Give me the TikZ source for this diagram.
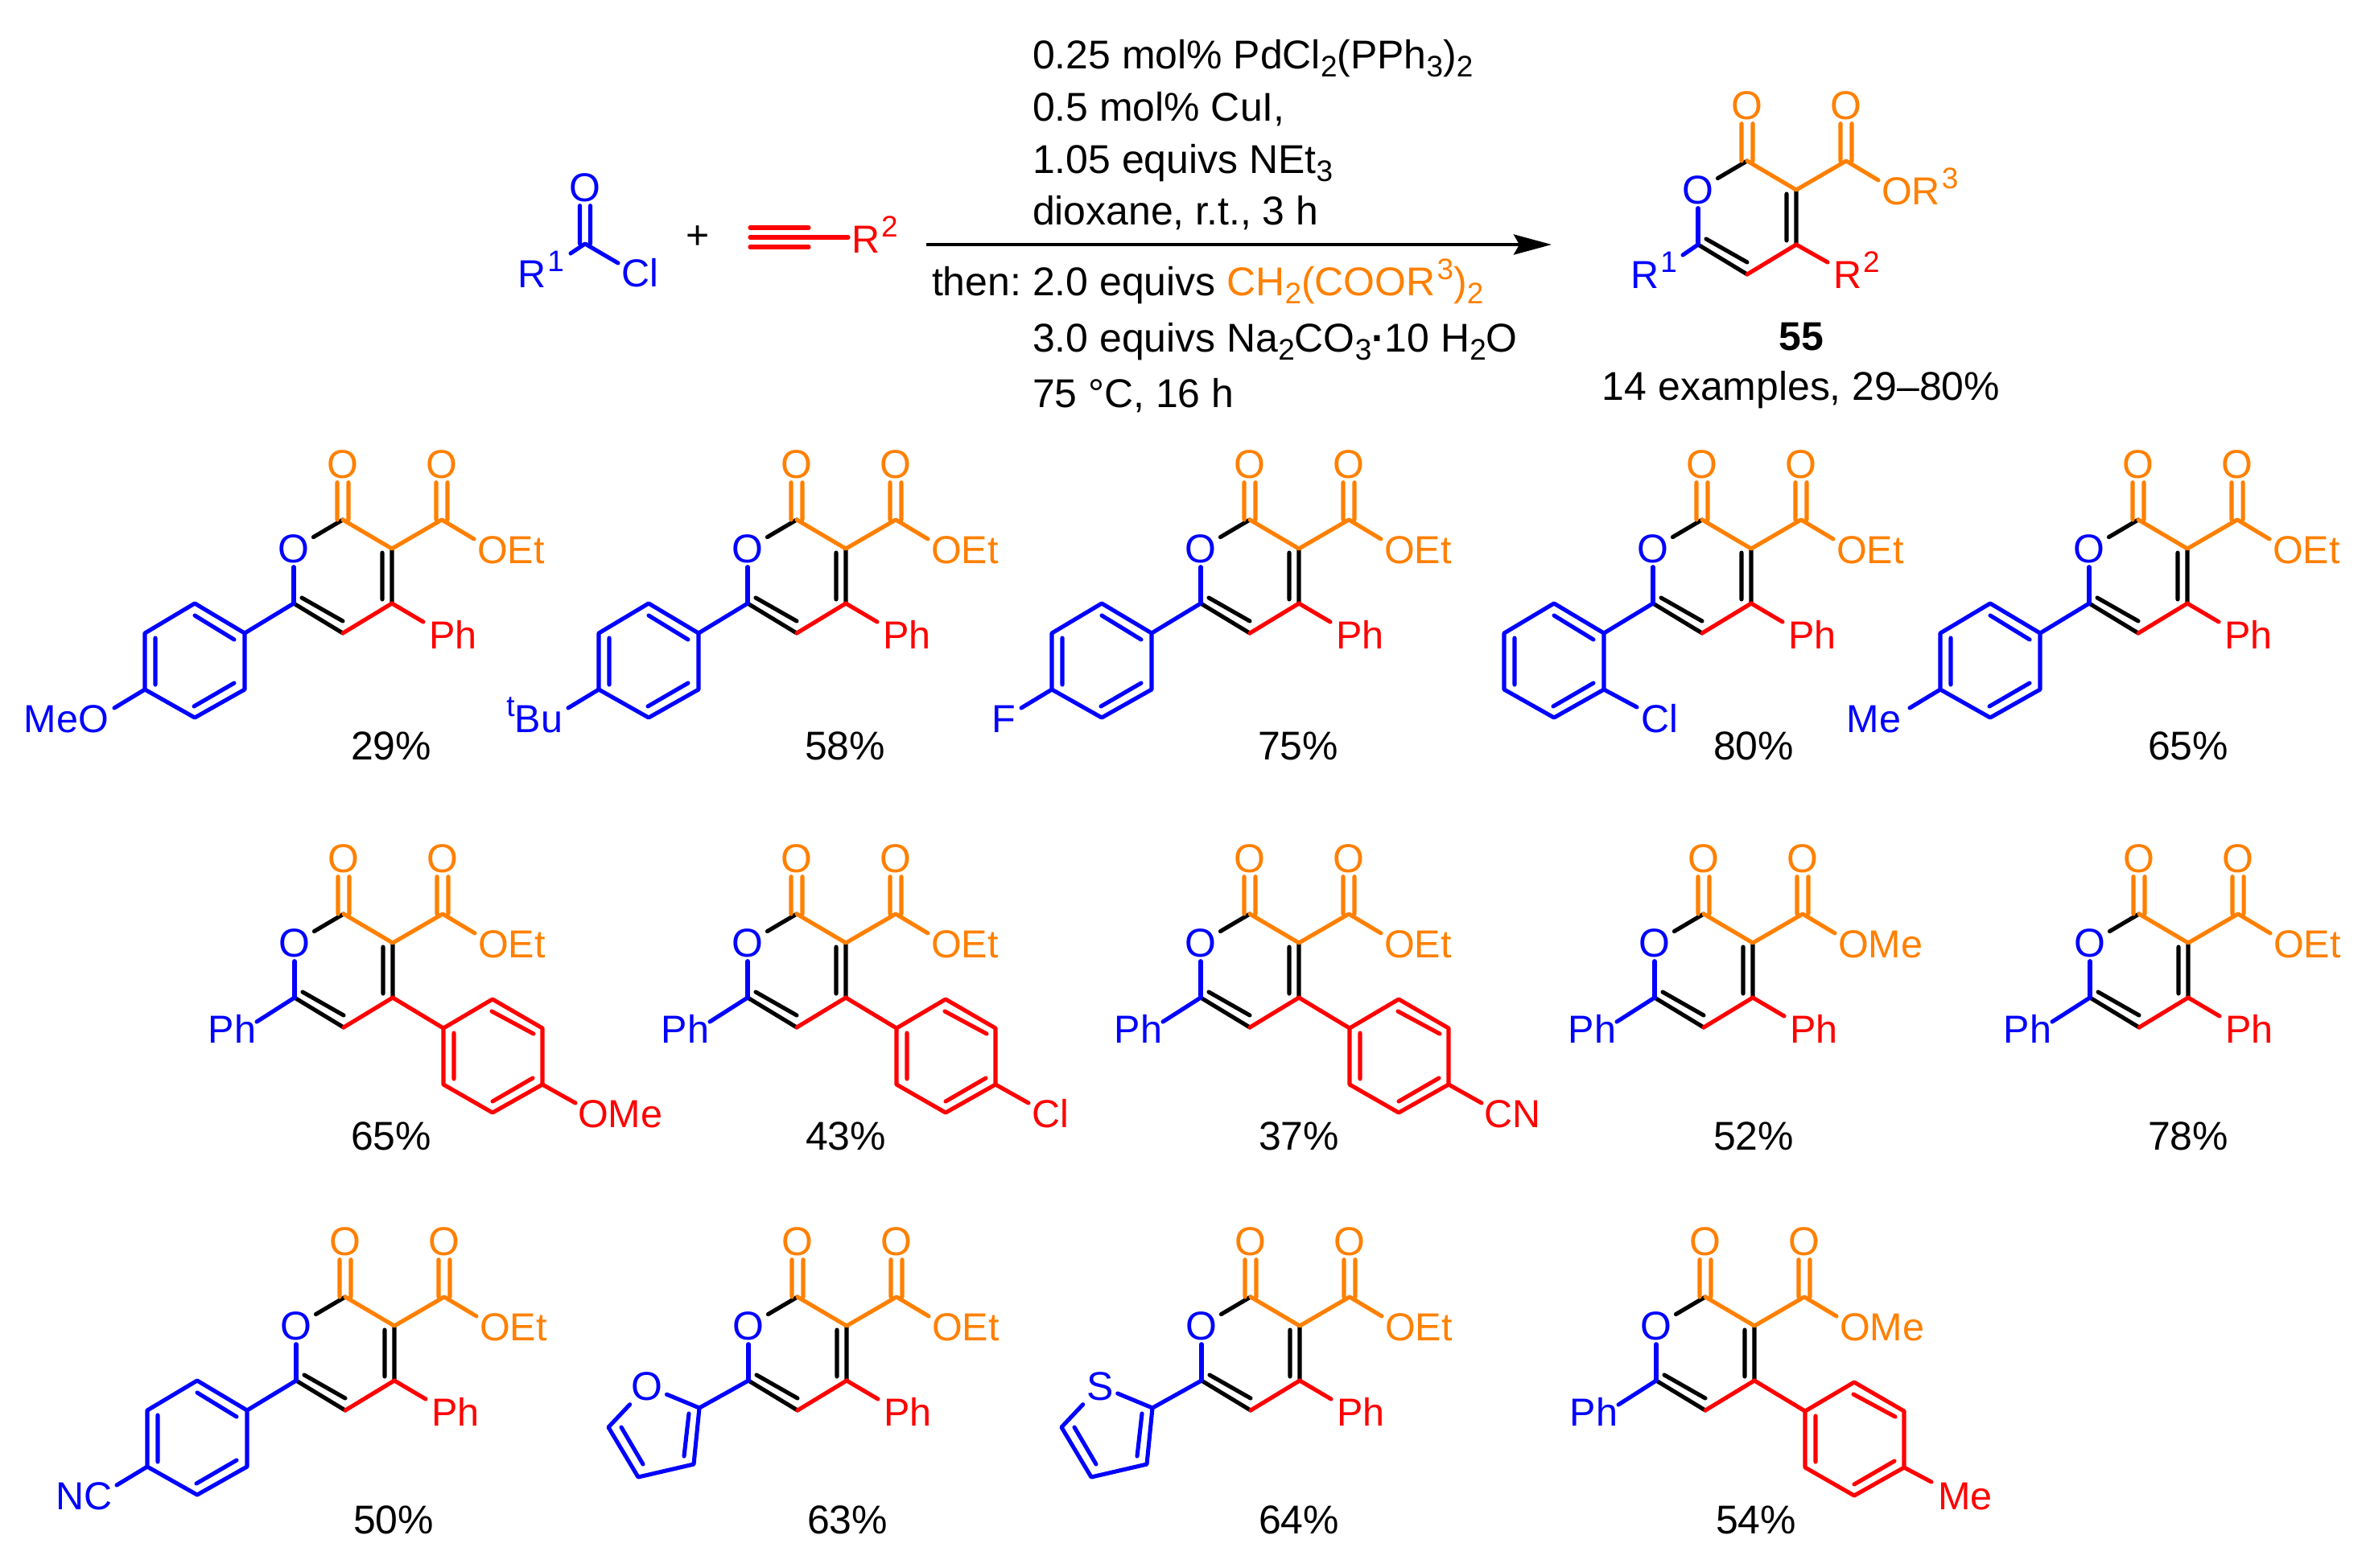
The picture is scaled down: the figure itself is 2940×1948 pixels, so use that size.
\documentclass[tikz,border=0pt]{standalone}
\usepackage{fontspec}
\setmainfont{Liberation Sans}
\usetikzlibrary{arrows.meta}
\tikzset{bond/.style={line width=1.45pt,line cap=round,line join=round},
         atom/.style={inner sep=0pt,outer sep=.05cm},
         lab/.style={inner sep=0pt,outer sep=0pt},
         chem/.style={lab,font=\fontsize{13.8}{17}\selectfont}}
\newcommand{\sbs}[1]{\raisebox{-3pt}{\fontsize{10.5}{12}\selectfont #1}}
\newcommand{\sps}[1]{\kern.6pt\raisebox{5.6pt}{\fontsize{10.5}{12}\selectfont #1}}
\newcommand{\sidegroup}[6]{
\coordinate (e-#2) at (#3);
\node[chem,text=#1,anchor=#5] (s-#2) at (#4) {#6};
\draw[bond,#1] (#2) -- (e-#2);
}
\newcommand{\phleft}{\sidegroup{blue}{c6}{-108,134}{-109,160}{base east}{Ph}}
\newcommand{\phright}{\sidegroup{red}{c4}{100,127}{107,160}{base west}{Ph}}
\newcommand{\arylleft}{
\path (-122,141) coordinate (r1) (-184,104) coordinate (r2) (-246,141) coordinate (r3)
      (-246,211) coordinate (r4) (-184,246) coordinate (r5) (-122,211) coordinate (r6)
      (-135,149) coordinate (i1) (-184,119) coordinate (i2) (-233,147) coordinate (i3)
      (-233,205) coordinate (i4) (-185,232) coordinate (i5) (-135,203) coordinate (i6);
\draw[bond,blue] (c6) -- (r1) (r1) -- (r2) -- (r3) -- (r4) -- (r5) -- (r6) -- cycle;
\draw[bond,blue] (i1) -- (i2) (i3) -- (i4) (i5) -- (i6);
}
\newcommand{\arylright}{
\path (124,142) coordinate (r1) (185,106) coordinate (r2) (247,142) coordinate (r3)
      (247,212) coordinate (r4) (185,247) coordinate (r5) (124,212) coordinate (r6)
      (137,148) coordinate (i1) (137,205) coordinate (i2) (184,121) coordinate (i3)
      (236,149) coordinate (i4) (185,233) coordinate (i5) (235,204) coordinate (i6);
\draw[bond,red] (c4) -- (r1) (r1) -- (r2) -- (r3) -- (r4) -- (r5) -- (r6) -- cycle;
\draw[bond,red] (i1) -- (i2) (i3) -- (i4) (i5) -- (i6);
}
\newcommand{\hetring}[1]{
\path (-122,138) coordinate (h2) (-129,208) coordinate (h3) (-198,224) coordinate (h4)
      (-235,162) coordinate (h5) (-135,145) coordinate (i1) (-141,198) coordinate (i2)
      (-219,162) coordinate (i3) (-192,208) coordinate (i4);
\node[atom,blue] (x1) at (-187,111) {#1};
\draw[bond,blue] (c6) -- (h2) -- (x1) (h2) -- (h3) -- (h4) -- (h5) -- (x1);
\draw[bond,blue] (i1) -- (i2) (i3) -- (i4);
}
\newcommand{\pyrone}[8]{
\begin{scope}[shift={(#2,#3)},name prefix=#1-]
\path (0,0) coordinate (c2) (61,36) coordinate (c3) (61,104) coordinate (c4)
      (0,141) coordinate (c5) (-61,104) coordinate (c6) (123,0) coordinate (c7)
      (163,24) coordinate (e7) (49,41) coordinate (d1) (49,99) coordinate (d2)
      (-51,97) coordinate (d3) (0,126) coordinate (d4);
\node[atom,blue] (o1) at (-61,36) {O};
\node[atom,orange] (o2) at (0,-69) {O};
\node[atom,orange] (o7) at (123,-69) {O};
\node[chem,text=orange,anchor=base west] (est) at (167,54) {#4};
\draw[bond] (o1) -- (c2) (c3) -- (c4) (d1) -- (d2) (c5) -- (c6) (d3) -- (d4);
\draw[bond,blue] (c6) -- (o1);
\draw[bond,red] (c4) -- (c5);
\draw[bond,orange] ([xshift=-.07cm]o2.south) -- ([xshift=-.07cm]c2) ([xshift=.07cm]o2.south) -- ([xshift=.07cm]c2)
      ([xshift=-.07cm]o7.south) -- ([xshift=-.07cm]c7) ([xshift=.07cm]o7.south) -- ([xshift=.07cm]c7)
      (c2) -- (c3) -- (c7) -- (e7);
#5
#6
\node[lab,anchor=base] (yield) at (#8) {#7};
\end{scope}
}
\begin{document}
\begin{tikzpicture}[x=.01cm,y=-.01cm,every node/.style={font=\fontsize{14.2}{17}\selectfont}]
\useasboundingbox (0,0) rectangle (2940,1948);
\path (727,303) coordinate (cc) (932,295) coordinate (t1) (1005,295) coordinate (t2)
      (1054,295) coordinate (t3) (709,315) coordinate (cr) (768,327) coordinate (cx)
      (1151,304) coordinate (arrs) (1928,304) coordinate (arre);
\node[atom,blue] (oc) at (727,233) {O};
\node[chem,text=blue,anchor=base east] (rone) at (701,357) {R\sps{1}};
\node[chem,text=blue,anchor=base west] (cl) at (772,356) {Cl};
\draw[bond,blue] ([xshift=-.065cm]oc.south) -- ([xshift=-.065cm]cc) ([xshift=.065cm]oc.south) -- ([xshift=.065cm]cc)
      (cr) -- (cc) -- (cx);
\node[lab,anchor=base] (plus) at (867,309) {+};
\node[chem,text=red,anchor=base west] (rtwo) at (1058,314) {R\sps{2}};
\draw[bond,red] (t1) -- (t2) -- (t3) ([yshift=.12cm]t1) -- ([yshift=.12cm]t2) ([yshift=-.12cm]t1) -- ([yshift=-.12cm]t2);
\draw[line width=1.25pt,-{Stealth[length=.47cm,width=.25cm,inset=.07cm]}] (arrs) -- (arre);
\node[lab,anchor=base west] (cond1) at (1283,85) {0.25 mol\% PdCl\sbs{2}(PPh\sbs{3})\sbs{2}};
\node[lab,anchor=base west] (cond2) at (1283,150) {0.5 mol\% CuI,};
\node[lab,anchor=base west] (cond3) at (1283,215) {1.05 equivs NEt\sbs{3}};
\node[lab,anchor=base west] (cond4) at (1283,279) {dioxane, r.t., 3 h};
\node[lab,anchor=base west] (then) at (1158,367) {then:};
\node[lab,anchor=base west] (cond5) at (1283,367) {2.0 equivs \textcolor{orange}{CH\sbs{2}(COOR\sps{3})\sbs{2}}};
\node[lab,anchor=base west] (cond6) at (1283,437) {3.0 equivs Na\sbs{2}CO\sbs{3}{\bfseries ·}10 H\sbs{2}O};
\node[lab,anchor=base west] (cond7) at (1283,506) {75 °C, 16 h};
\node[lab,anchor=base] (scope) at (2238,497) {14 examples, 29–80\%};
\pyrone{p}{2171}{200}{OR\sps{3}}
  {\sidegroup{blue}{c6}{-80,117}{-87,158}{base east}{R\sps{1}}}
  {\sidegroup{red}{c4}{100,126}{107,158}{base west}{R\sps{2}}}{\textbf{55}}{67,235}
\pyrone{a}{426}{646}{OEt}{\arylleft\sidegroup{blue}{r4}{-284,234}{-291,264}{base east}{MeO}}{\phright}{29\%}{60,298}
\pyrone{b}{990}{646}{OEt}{\arylleft\sidegroup{blue}{r4}{-284,234}{-291,264}{base east}{\sps{t}Bu}}{\phright}{58\%}{60,298}
\pyrone{c}{1553}{646}{OEt}{\arylleft\sidegroup{blue}{r4}{-284,234}{-291,264}{base east}{F}}{\phright}{75\%}{60,298}
\pyrone{d}{2115}{646}{OEt}{\arylleft\sidegroup{blue}{r6}{-81,233}{-76,264}{base west}{Cl}}{\phright}{80\%}{64,298}
\pyrone{e}{2657}{646}{OEt}{\arylleft\sidegroup{blue}{r4}{-284,234}{-295,264}{base east}{Me}}{\phright}{65\%}{62,298}
\pyrone{f}{427}{1136}{OEt}{\phleft}{\arylright\sidegroup{red}{r4}{288,235}{291,265}{base west}{OMe}}{65\%}{59,293}
\pyrone{g}{990}{1136}{OEt}{\phleft}{\arylright\sidegroup{red}{r4}{288,235}{292,265}{base west}{Cl}}{43\%}{61,293}
\pyrone{h}{1553}{1136}{OEt}{\phleft}{\arylright\sidegroup{red}{r4}{288,235}{291,265}{base west}{CN}}{37\%}{61,293}
\pyrone{i}{2117}{1136}{OMe}{\phleft}{\phright}{52\%}{62,293}
\pyrone{j}{2658}{1136}{OEt}{\phleft}{\phright}{78\%}{61,293}
\pyrone{k}{429}{1612}{OEt}{\arylleft\sidegroup{blue}{r4}{-284,234}{-289,264}{base east}{NC}}{\phright}{50\%}{60,294}
\pyrone{l}{991}{1612}{OEt}{\hetring{O}}{\phright}{63\%}{62,294}
\pyrone{m}{1554}{1612}{OEt}{\hetring{S}}{\phright}{64\%}{60,294}
\pyrone{n}{2119}{1612}{OMe}{\phleft}{\arylright\sidegroup{red}{r4}{281,230}{289,264}{base west}{Me}}{54\%}{63,294}
\end{tikzpicture}
\end{document}
